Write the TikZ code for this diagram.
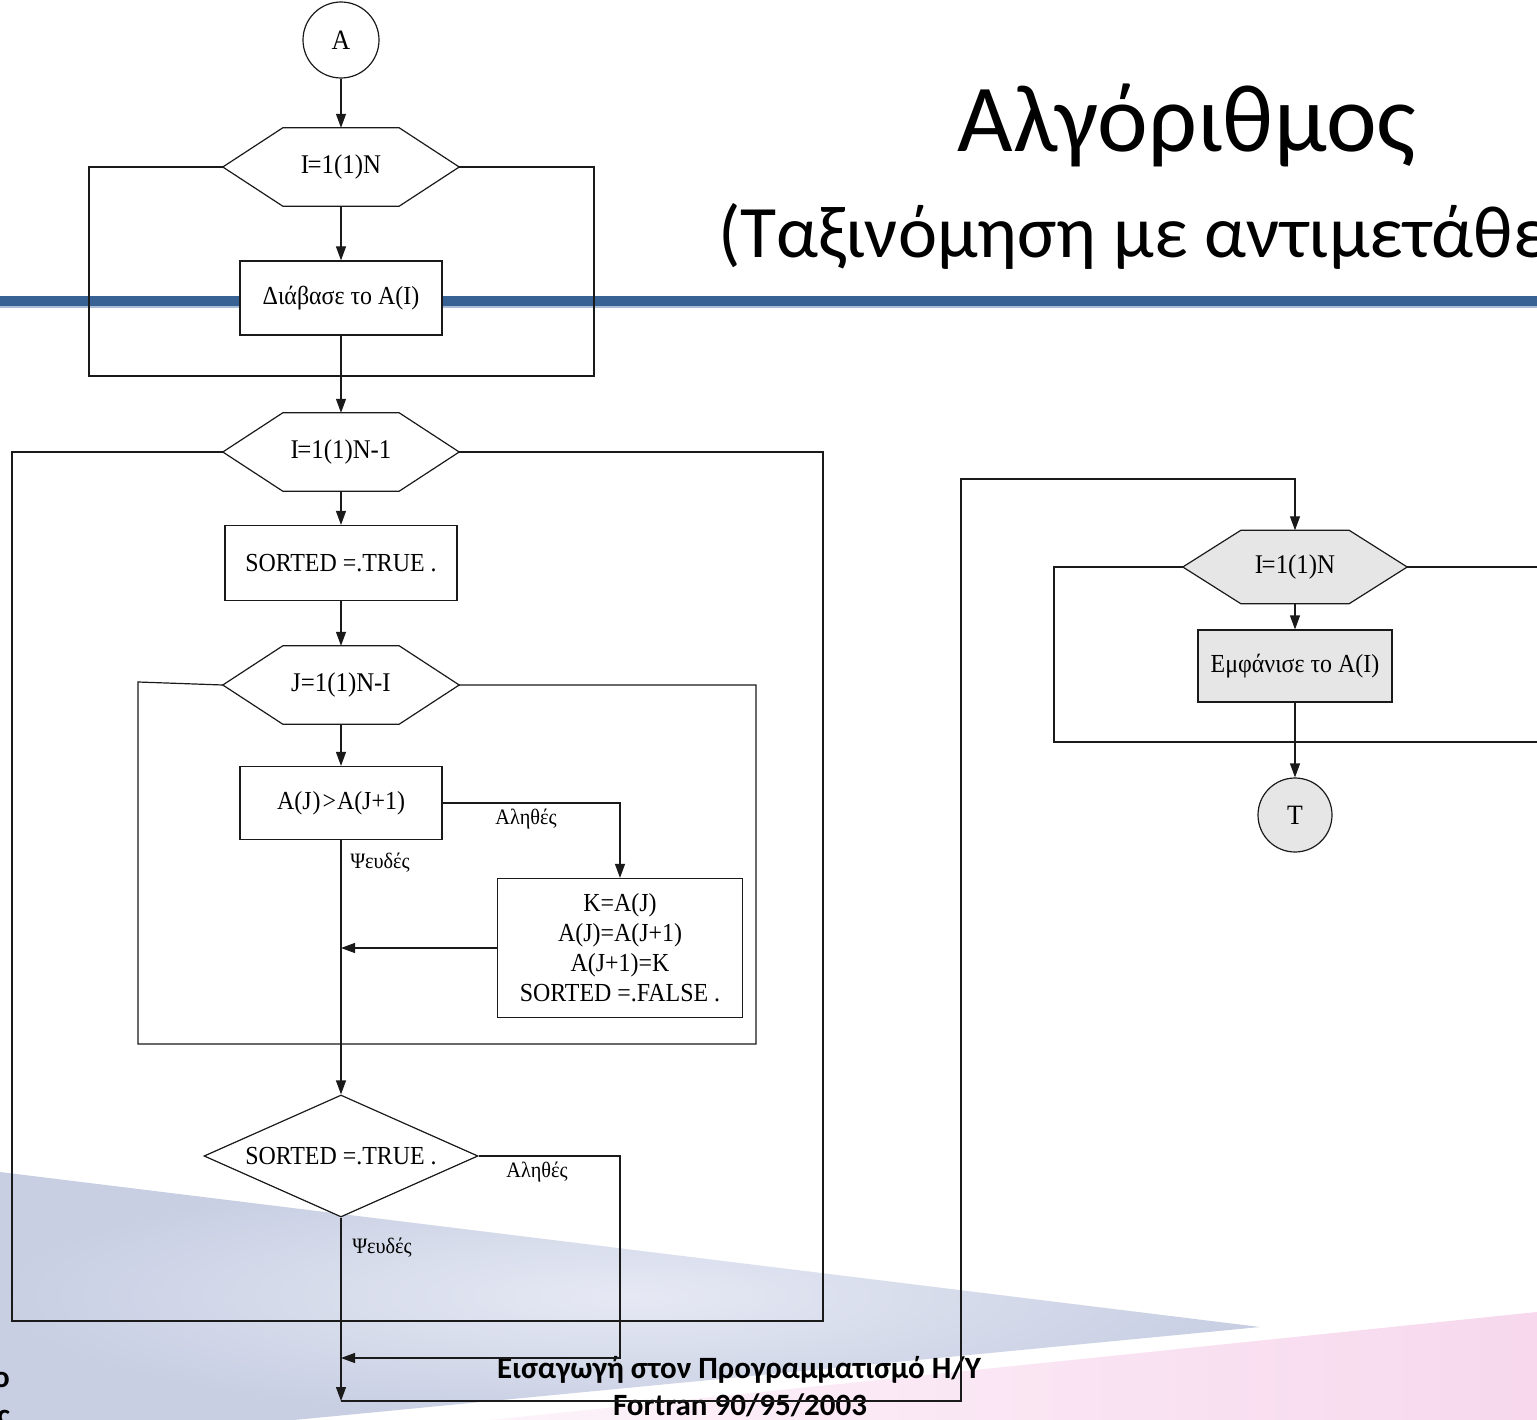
\documentclass[tikz,border=0pt]{standalone}
\usepackage{fontspec}
\setmainfont{Liberation Serif}
\newfontfamily\chartfont[FakeStretch=0.92]{Liberation Serif}
\newfontfamily\slidefont{Carlito}
\usetikzlibrary{arrows.meta,shapes.geometric}
\definecolor{barblue}{HTML}{386293}
\definecolor{barlight}{HTML}{A9BDD8}
\definecolor{greyA}{HTML}{C8CFE3}
\definecolor{greyB}{HTML}{E6E9F4}
\definecolor{pinkA}{HTML}{F7D8ED}
\definecolor{pinkB}{HTML}{FDF3FA}
\definecolor{ink}{HTML}{1A1A1A}
\definecolor{panel}{HTML}{E6E6E6}
\pgfdeclarelayer{back}
\pgfsetlayers{back,main}
% hexagonal loop header drawn around a named node
\newcommand\hexoutline[3]{%
  \begin{pgfonlayer}{back}
    \path[draw=ink,line width=1.2pt,fill=#3,line join=miter]
      (#1.west) -- ([xshift=#2]#1.north west) -- ([xshift=-#2]#1.north east)
      -- (#1.east) -- ([xshift=-#2]#1.south east) -- ([xshift=#2]#1.south west) -- cycle;
  \end{pgfonlayer}}
\begin{document}
\begin{tikzpicture}[x=1pt,y=-1pt,
  flow/.style={draw=ink,line width=1.2pt},
  arr/.style={flow,-{Triangle[length=14pt,width=10pt]}},
  procbox/.style={rectangle,draw=ink,line width=1.2pt,fill=white,inner sep=0pt,
    align=center,font=\chartfont\fontsize{26}{30}\selectfont},
  hexlabel/.style={rectangle,inner sep=0pt,minimum width=236,minimum height=78,
    font=\chartfont\fontsize{27}{30}\selectfont},
  decide/.style={diamond,draw=ink,line width=1.2pt,fill=white,inner sep=0pt,
    minimum width=274,minimum height=122,shape aspect=2.25,
    font=\chartfont\fontsize{26}{30}\selectfont},
  term/.style={circle,draw=ink,line width=1.2pt,fill=white,inner sep=0pt,
    minimum size=76,font=\chartfont\fontsize{28}{30}\selectfont},
  tag/.style={inner sep=0pt,font=\chartfont\fontsize{22}{24}\selectfont},
  foot/.style={inner sep=0pt,anchor=base,font=\slidefont\bfseries\fontsize{31}{36}\selectfont}]
\useasboundingbox (0,0) rectangle (1537,1420);
\clip (0,0) rectangle (1537,1420);

% slide decoration
\begin{pgfonlayer}{back}
  \fill[white] (0,0) rectangle (1537,1420);
  \shade[inner color=greyB,outer color=greyA]
    (0,1172) -- (1260,1327) -- (294,1420) -- (0,1420) -- cycle;
  \shade[left color=pinkB,right color=pinkA]
    (1537,1312) -- (490,1420) -- (1537,1420) -- cycle;
  \fill[barblue] (0,296) rectangle (1537,306);
  \fill[barlight] (0,306) rectangle (1537,308);
\end{pgfonlayer}

% slide title
\node[inner sep=0pt,anchor=base] (title) at (1187,152)
  {\slidefont\fontsize{96}{96}\selectfont Αλγόριθμος};
\node[inner sep=0pt,anchor=base west] (subtitle) at (718,258)
  {\slidefont\fontsize{74}{76}\selectfont (Ταξινόμηση με αντιμετάθεση)};

% footer
\node[foot] (f1) at (739,1378) {Εισαγωγή στον Προγραμματισμό Η/Υ};
\node[foot] (f2) at (740,1415) {Fortran 90/95/2003};
\node[foot,anchor=base east] (f3) at (10,1387) {ο};
\node[foot,anchor=base east] (f4) at (10,1425) {ς};

% reading loop
\node[term] (a) at (341,40) {A};
\node[hexlabel] (h1) at (341,167) {I\kern-1.5pt=1(1)N};
\hexoutline{h1}{60}{white}
\node[procbox,minimum width=202,minimum height=74] (b1) at (341,298) {Διάβασε το A(I)};
\coordinate (l1a) at (89,376);
\coordinate (l1b) at (594,376);

% outer sorting loop
\node[hexlabel] (h2) at (341,452) {I\kern-1.5pt=1(1)N-1};
\hexoutline{h2}{60}{white}
\node[procbox,minimum width=232,minimum height=75] (b2) at (341,563) {SORTED =.TRUE .};
\coordinate (l2a) at (12,1321);
\coordinate (l2b) at (823,1321);

% inner comparison loop
\node[hexlabel] (h3) at (341,685) {J=1(1)N-I};
\hexoutline{h3}{60}{white}
\node[procbox,minimum width=202,minimum height=73] (b3) at (341,803) {A(J\kern1pt)\kern2pt>\kern1pt A(J+1)};
\node[procbox,minimum width=245,minimum height=139] (b4) at (620,948)
  {K=A(J)\\A(J)=A(J+1)\\A(J+1)=K\\SORTED =.FALSE .};
\coordinate (l3a) at (138,1044);
\coordinate (l3b) at (756,1044);

\node[decide] (d1) at (341,1156) {SORTED =.TRUE .};
\coordinate (c1) at (620,1358);
\coordinate (m3) at (341,1401);
\coordinate (j1) at (961,1401);
\coordinate (j2) at (961,479);

% printing loop
\node[hexlabel,minimum width=224,minimum height=73] (h4) at (1295,567) {I\kern-1.5pt=1(1)N};
\hexoutline{h4}{58}{panel}
\node[procbox,fill=panel,minimum width=194,minimum height=72] (b5) at (1295,666) {Εμφάνισε το A(I)};
\node[term,fill=panel,minimum size=74] (t) at (1295,815) {T};
\coordinate (l4a) at (1054,742);
\coordinate (l4b) at (1560,742);

% connectors
\draw[arr] (a) -- (h1);
\draw[arr] (h1) -- (b1);
\draw[flow] (h1.west) -| (l1a) -- (l1b) |- (h1.east);
\draw[arr] (b1) -- (h2);
\draw[flow] (h2.west) -| (l2a) -- (l2b) |- (h2.east);
\draw[arr] (h2) -- (b2);
\draw[arr] (b2) -- (h3);
\draw[flow] (h3.west) -- ([yshift=3pt]h3.west -| l3a) -- (l3a) -- (l3b) |- (h3.east);
\draw[arr] (h3) -- (b3);
\draw[arr] (b3.east) -| (b4.north);
\node[tag] (yes1) at (526,819) {Αληθές};
\node[tag] (no1) at (380,863) {Ψευδές};
\draw[arr] (b4.west) -- (b4.west -| b3.south);
\draw[arr] (b3) -- (d1);
\draw[arr] (d1.east) -| (c1) -- (c1 -| d1.south);
\node[tag] (yes2) at (537,1172) {Αληθές};
\node[tag] (no2) at (382,1248) {Ψευδές};
\draw[arr] (d1.south) -- (m3);
\draw[arr] (m3) -- (j1) -- (j2) -| (h4.north);
\draw[arr] (h4) -- (b5);
\draw[flow] (h4.west) -| (l4a) -- (l4b);
\draw[flow] (h4.east) -- (h4.east -| l4b);
\draw[arr] (b5) -- (t);
\end{tikzpicture}
\end{document}
